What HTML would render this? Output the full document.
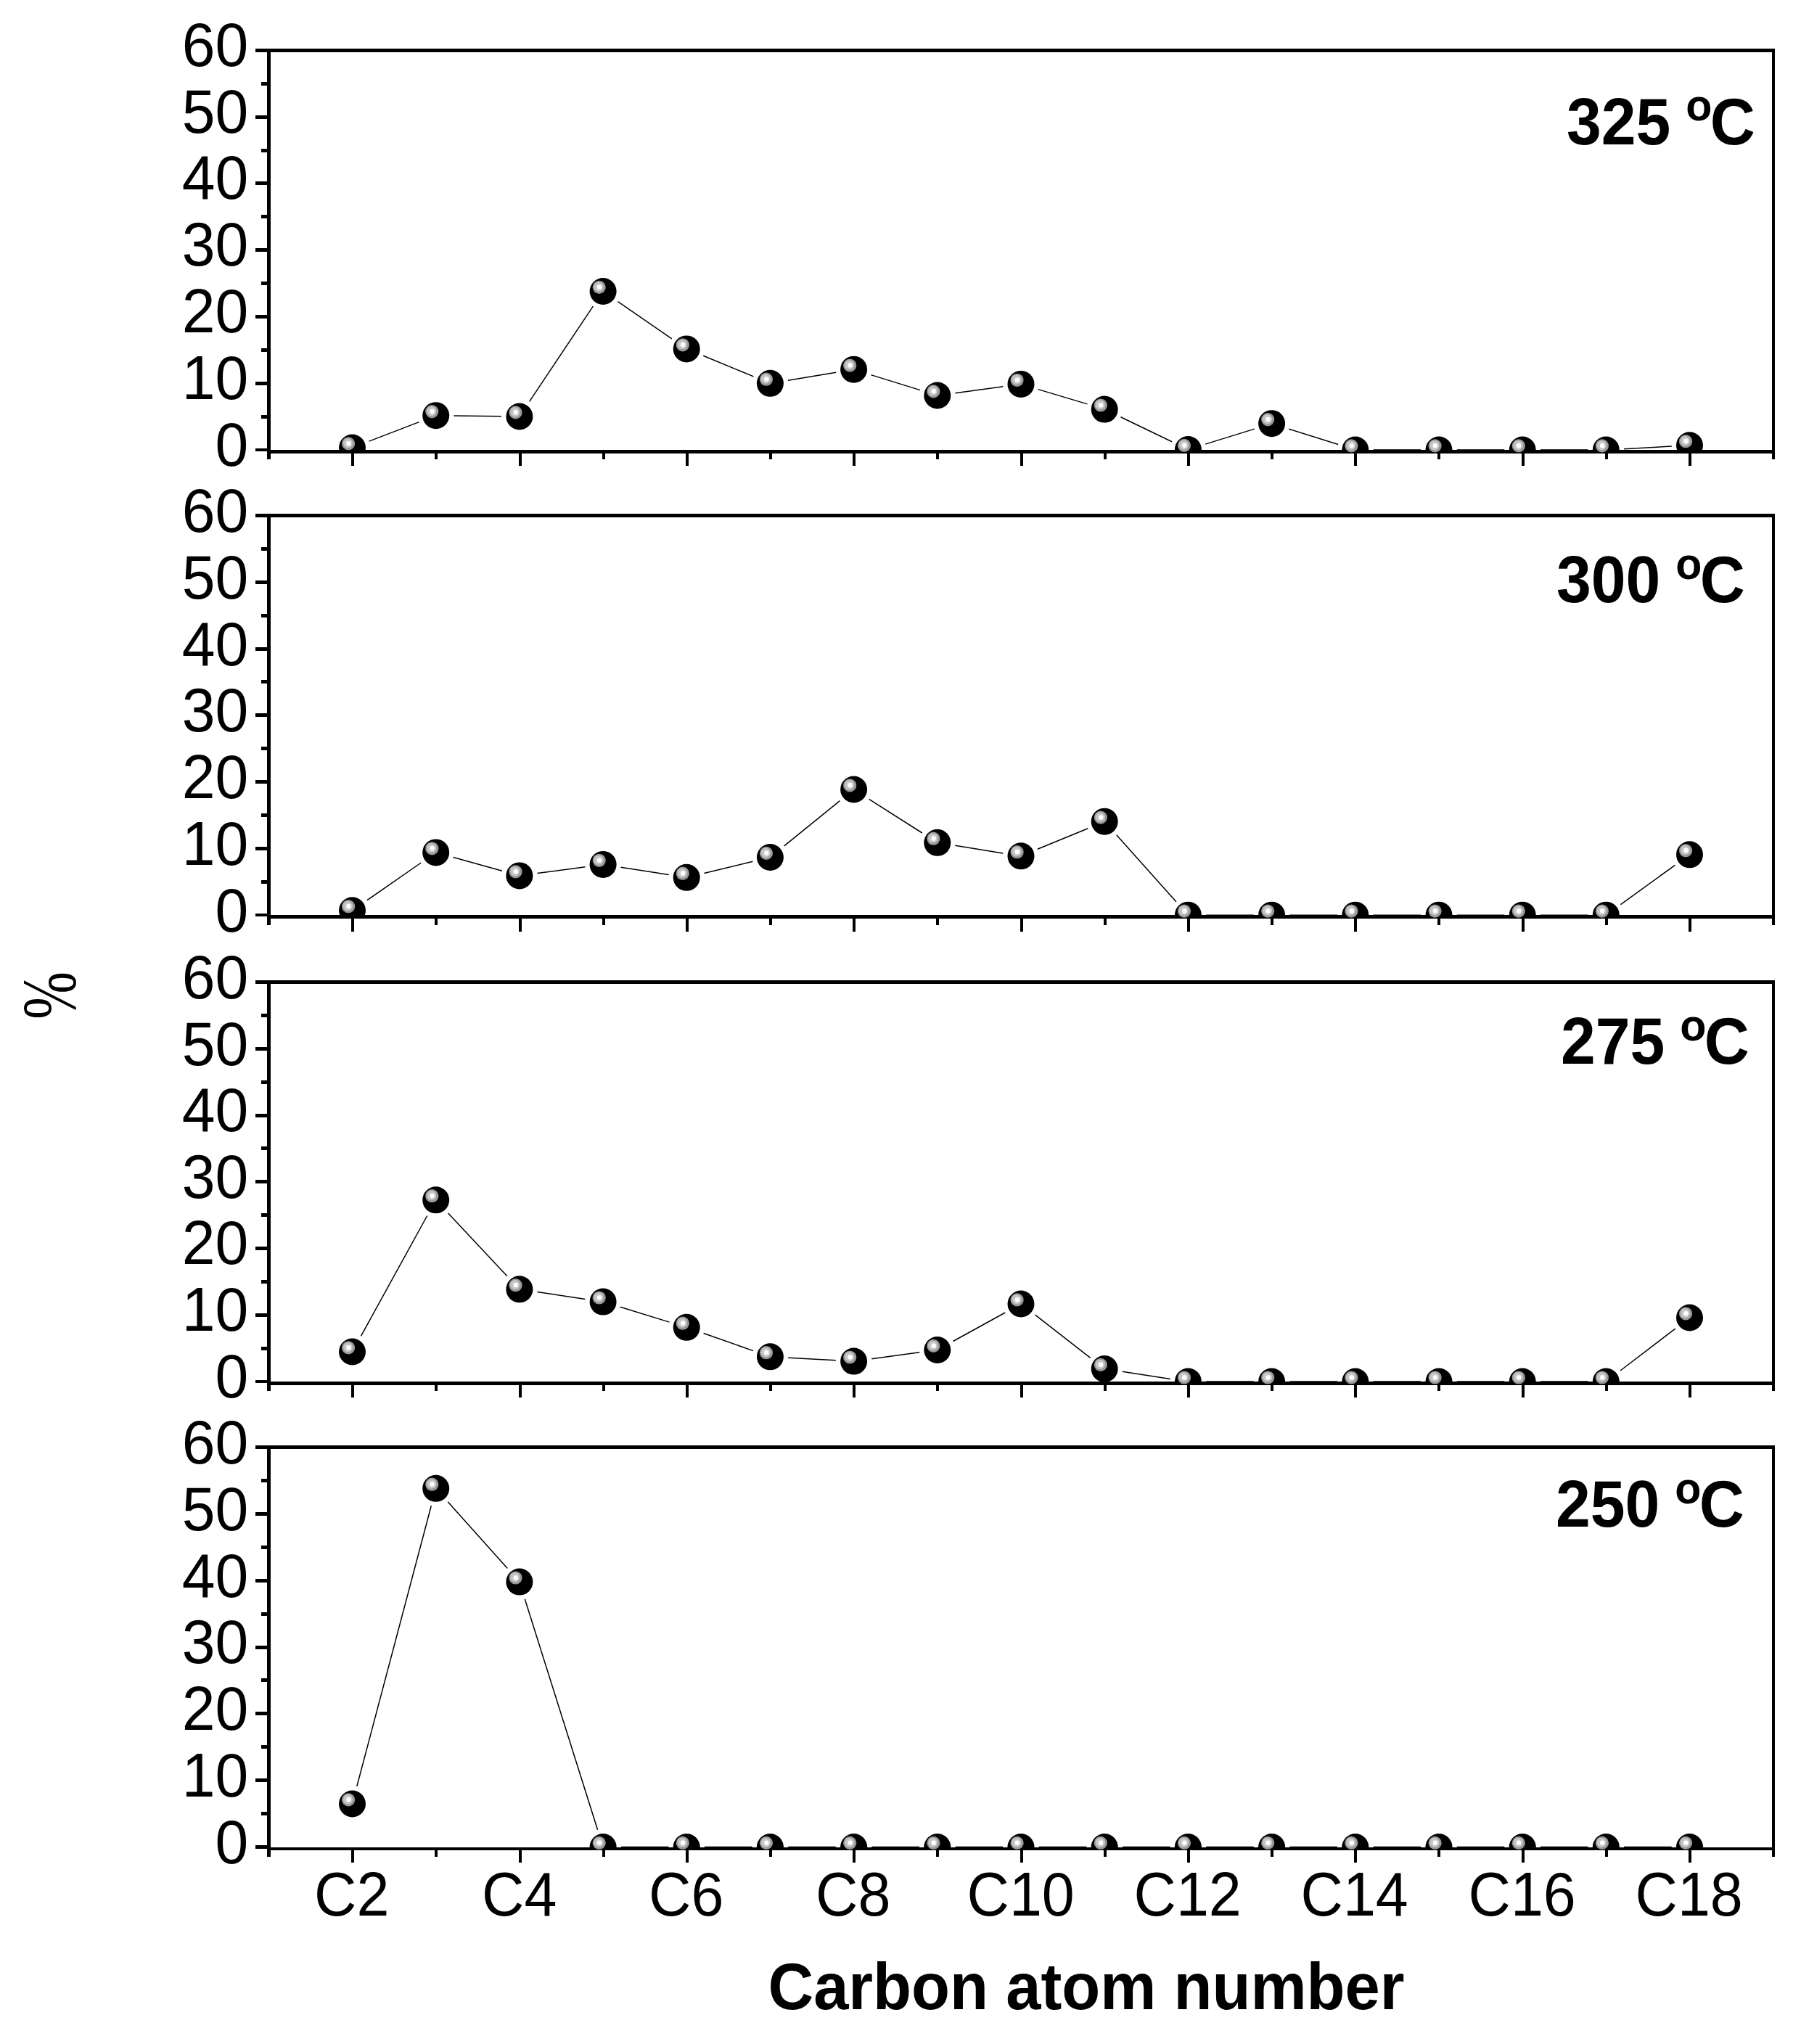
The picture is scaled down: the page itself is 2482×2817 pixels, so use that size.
<!DOCTYPE html>
<html lang="en"><head><meta charset="utf-8"><title>Carbon atom number distribution</title>
<style>html,body{margin:0;padding:0;background:#fff}svg{display:block}text{font-family:"Liberation Sans",Arial,Helvetica,sans-serif;fill:#000}.b{font-weight:bold}.ser{font-family:"Liberation Serif","Times New Roman",serif}</style></head><body>
<svg width="2482" height="2817" viewBox="0 0 2482 2817">
<rect width="2482" height="2817" fill="#fff"/>
<g shape-rendering="crispEdges" fill="#000">
<rect x="368" y="67" width="2078" height="5"/>
<rect x="368" y="620" width="2078" height="5"/>
<rect x="368" y="67" width="5" height="566"/>
<rect x="2442" y="67" width="4" height="566"/>
<rect x="352" y="618" width="17" height="4"/>
<rect x="360" y="572" width="9" height="5"/>
<rect x="352" y="526" width="17" height="5"/>
<rect x="360" y="480" width="9" height="5"/>
<rect x="352" y="434" width="17" height="5"/>
<rect x="360" y="388" width="9" height="5"/>
<rect x="352" y="342" width="17" height="5"/>
<rect x="360" y="296" width="9" height="5"/>
<rect x="352" y="250" width="17" height="5"/>
<rect x="360" y="205" width="9" height="5"/>
<rect x="352" y="159" width="17" height="5"/>
<rect x="360" y="113" width="9" height="5"/>
<rect x="352" y="67" width="17" height="5"/>
<rect x="484" y="620" width="4" height="22"/>
<rect x="599" y="620" width="4" height="13"/>
<rect x="715" y="620" width="4" height="22"/>
<rect x="830" y="620" width="4" height="13"/>
<rect x="945" y="620" width="4" height="22"/>
<rect x="1060" y="620" width="4" height="13"/>
<rect x="1175" y="620" width="4" height="22"/>
<rect x="1290" y="620" width="4" height="13"/>
<rect x="1406" y="620" width="4" height="22"/>
<rect x="1521" y="620" width="4" height="13"/>
<rect x="1636" y="620" width="4" height="22"/>
<rect x="1751" y="620" width="4" height="13"/>
<rect x="1866" y="620" width="4" height="22"/>
<rect x="1981" y="620" width="4" height="13"/>
<rect x="2097" y="620" width="4" height="22"/>
<rect x="2212" y="620" width="4" height="13"/>
<rect x="2327" y="620" width="4" height="22"/>
</g>
<text transform="translate(342.4,641.8) scale(0.98,1.02)" font-size="84" text-anchor="end">0</text>
<text transform="translate(342.4,549.9) scale(0.98,1.02)" font-size="84" text-anchor="end">10</text>
<text transform="translate(342.4,458.1) scale(0.98,1.02)" font-size="84" text-anchor="end">20</text>
<text transform="translate(342.4,366.2) scale(0.98,1.02)" font-size="84" text-anchor="end">30</text>
<text transform="translate(342.4,274.4) scale(0.98,1.02)" font-size="84" text-anchor="end">40</text>
<text transform="translate(342.4,182.5) scale(0.98,1.02)" font-size="84" text-anchor="end">50</text>
<text transform="translate(342.4,90.7) scale(0.98,1.02)" font-size="84" text-anchor="end">60</text>
<clipPath id="c0"><rect x="368" y="67" width="2078" height="558"/></clipPath>
<g clip-path="url(#c0)">
<path d="M508.6 608.1L577.5 581.6M625.5 573.0L691.1 573.7M729.6 553.4L817.3 422.1M851.5 415.6L925.8 466.8M969.2 490.3L1038.5 518.9M1085.9 524.2L1152.2 513.3M1200.3 516.6L1268.1 537.6M1316.4 541.7L1382.4 532.7M1430.8 536.6L1498.5 556.9M1544.5 574.8L1615.0 608.8M1661.1 612.1L1728.9 591.1M1776.2 591.2L1844.1 612.5M1892.6 620.0L1958.2 620.0M2007.8 620.0L2073.3 620.0M2123.0 620.0L2188.5 620.0M2238.1 618.7L2303.8 615.1" stroke="#000" stroke-width="1.5" fill="none"/>
<g transform="translate(485.5 617.0)"><circle r="18.5"/><circle cx="-5.4" cy="-5.6" r="9.1" fill="#999"/><circle cx="-6" cy="-6.15" r="6.6" fill="#c6c6c6"/><rect x="-8.2" y="-8.95" width="6.2" height="6.4" rx="2.1" fill="#fdfdfd"/></g>
<g transform="translate(600.7 572.7)"><circle r="18.5"/><circle cx="-5.4" cy="-5.6" r="9.1" fill="#999"/><circle cx="-6" cy="-6.15" r="6.6" fill="#c6c6c6"/><rect x="-8.2" y="-8.95" width="6.2" height="6.4" rx="2.1" fill="#fdfdfd"/></g>
<g transform="translate(715.9 574.0)"><circle r="18.5"/><circle cx="-5.4" cy="-5.6" r="9.1" fill="#999"/><circle cx="-6" cy="-6.15" r="6.6" fill="#c6c6c6"/><rect x="-8.2" y="-8.95" width="6.2" height="6.4" rx="2.1" fill="#fdfdfd"/></g>
<g transform="translate(831.1 401.5)"><circle r="18.5"/><circle cx="-5.4" cy="-5.6" r="9.1" fill="#999"/><circle cx="-6" cy="-6.15" r="6.6" fill="#c6c6c6"/><rect x="-8.2" y="-8.95" width="6.2" height="6.4" rx="2.1" fill="#fdfdfd"/></g>
<g transform="translate(946.2 480.9)"><circle r="18.5"/><circle cx="-5.4" cy="-5.6" r="9.1" fill="#999"/><circle cx="-6" cy="-6.15" r="6.6" fill="#c6c6c6"/><rect x="-8.2" y="-8.95" width="6.2" height="6.4" rx="2.1" fill="#fdfdfd"/></g>
<g transform="translate(1061.4 528.3)"><circle r="18.5"/><circle cx="-5.4" cy="-5.6" r="9.1" fill="#999"/><circle cx="-6" cy="-6.15" r="6.6" fill="#c6c6c6"/><rect x="-8.2" y="-8.95" width="6.2" height="6.4" rx="2.1" fill="#fdfdfd"/></g>
<g transform="translate(1176.6 509.2)"><circle r="18.5"/><circle cx="-5.4" cy="-5.6" r="9.1" fill="#999"/><circle cx="-6" cy="-6.15" r="6.6" fill="#c6c6c6"/><rect x="-8.2" y="-8.95" width="6.2" height="6.4" rx="2.1" fill="#fdfdfd"/></g>
<g transform="translate(1291.8 545.0)"><circle r="18.5"/><circle cx="-5.4" cy="-5.6" r="9.1" fill="#999"/><circle cx="-6" cy="-6.15" r="6.6" fill="#c6c6c6"/><rect x="-8.2" y="-8.95" width="6.2" height="6.4" rx="2.1" fill="#fdfdfd"/></g>
<g transform="translate(1407.0 529.4)"><circle r="18.5"/><circle cx="-5.4" cy="-5.6" r="9.1" fill="#999"/><circle cx="-6" cy="-6.15" r="6.6" fill="#c6c6c6"/><rect x="-8.2" y="-8.95" width="6.2" height="6.4" rx="2.1" fill="#fdfdfd"/></g>
<g transform="translate(1522.2 564.1)"><circle r="18.5"/><circle cx="-5.4" cy="-5.6" r="9.1" fill="#999"/><circle cx="-6" cy="-6.15" r="6.6" fill="#c6c6c6"/><rect x="-8.2" y="-8.95" width="6.2" height="6.4" rx="2.1" fill="#fdfdfd"/></g>
<g transform="translate(1637.4 619.5)"><circle r="18.5"/><circle cx="-5.4" cy="-5.6" r="9.1" fill="#999"/><circle cx="-6" cy="-6.15" r="6.6" fill="#c6c6c6"/><rect x="-8.2" y="-8.95" width="6.2" height="6.4" rx="2.1" fill="#fdfdfd"/></g>
<g transform="translate(1752.6 583.7)"><circle r="18.5"/><circle cx="-5.4" cy="-5.6" r="9.1" fill="#999"/><circle cx="-6" cy="-6.15" r="6.6" fill="#c6c6c6"/><rect x="-8.2" y="-8.95" width="6.2" height="6.4" rx="2.1" fill="#fdfdfd"/></g>
<g transform="translate(1867.8 620.0)"><circle r="18.5"/><circle cx="-5.4" cy="-5.6" r="9.1" fill="#999"/><circle cx="-6" cy="-6.15" r="6.6" fill="#c6c6c6"/><rect x="-8.2" y="-8.95" width="6.2" height="6.4" rx="2.1" fill="#fdfdfd"/></g>
<g transform="translate(1983.0 620.0)"><circle r="18.5"/><circle cx="-5.4" cy="-5.6" r="9.1" fill="#999"/><circle cx="-6" cy="-6.15" r="6.6" fill="#c6c6c6"/><rect x="-8.2" y="-8.95" width="6.2" height="6.4" rx="2.1" fill="#fdfdfd"/></g>
<g transform="translate(2098.2 620.0)"><circle r="18.5"/><circle cx="-5.4" cy="-5.6" r="9.1" fill="#999"/><circle cx="-6" cy="-6.15" r="6.6" fill="#c6c6c6"/><rect x="-8.2" y="-8.95" width="6.2" height="6.4" rx="2.1" fill="#fdfdfd"/></g>
<g transform="translate(2213.3 620.0)"><circle r="18.5"/><circle cx="-5.4" cy="-5.6" r="9.1" fill="#999"/><circle cx="-6" cy="-6.15" r="6.6" fill="#c6c6c6"/><rect x="-8.2" y="-8.95" width="6.2" height="6.4" rx="2.1" fill="#fdfdfd"/></g>
<g transform="translate(2328.5 613.8)"><circle r="18.5"/><circle cx="-5.4" cy="-5.6" r="9.1" fill="#999"/><circle cx="-6" cy="-6.15" r="6.6" fill="#c6c6c6"/><rect x="-8.2" y="-8.95" width="6.2" height="6.4" rx="2.1" fill="#fdfdfd"/></g>
</g>
<text class="b" transform="translate(2161,198.5) scale(0.955,1)" font-size="90"><tspan x="-2.2">325</tspan><tspan> </tspan><tspan x="170" y="-32.2" font-size="62">o</tspan><tspan x="205" y="0">C</tspan></text>
<g shape-rendering="crispEdges" fill="#000">
<rect x="368" y="708" width="2078" height="5"/>
<rect x="368" y="1261" width="2078" height="5"/>
<rect x="368" y="708" width="5" height="567"/>
<rect x="2442" y="708" width="4" height="567"/>
<rect x="352" y="1259" width="17" height="4"/>
<rect x="360" y="1213" width="9" height="5"/>
<rect x="352" y="1167" width="17" height="5"/>
<rect x="360" y="1121" width="9" height="5"/>
<rect x="352" y="1075" width="17" height="5"/>
<rect x="360" y="1029" width="9" height="5"/>
<rect x="352" y="983" width="17" height="5"/>
<rect x="360" y="937" width="9" height="5"/>
<rect x="352" y="892" width="17" height="5"/>
<rect x="360" y="846" width="9" height="5"/>
<rect x="352" y="800" width="17" height="5"/>
<rect x="360" y="754" width="9" height="5"/>
<rect x="352" y="708" width="17" height="5"/>
<rect x="484" y="1261" width="4" height="23"/>
<rect x="599" y="1261" width="4" height="14"/>
<rect x="715" y="1261" width="4" height="23"/>
<rect x="830" y="1261" width="4" height="14"/>
<rect x="945" y="1261" width="4" height="23"/>
<rect x="1060" y="1261" width="4" height="14"/>
<rect x="1175" y="1261" width="4" height="23"/>
<rect x="1290" y="1261" width="4" height="14"/>
<rect x="1406" y="1261" width="4" height="23"/>
<rect x="1521" y="1261" width="4" height="14"/>
<rect x="1636" y="1261" width="4" height="23"/>
<rect x="1751" y="1261" width="4" height="14"/>
<rect x="1866" y="1261" width="4" height="23"/>
<rect x="1981" y="1261" width="4" height="14"/>
<rect x="2097" y="1261" width="4" height="23"/>
<rect x="2212" y="1261" width="4" height="14"/>
<rect x="2327" y="1261" width="4" height="23"/>
</g>
<text transform="translate(342.4,1284.0) scale(0.98,1.02)" font-size="84" text-anchor="end">0</text>
<text transform="translate(342.4,1192.1) scale(0.98,1.02)" font-size="84" text-anchor="end">10</text>
<text transform="translate(342.4,1100.2) scale(0.98,1.02)" font-size="84" text-anchor="end">20</text>
<text transform="translate(342.4,1008.4) scale(0.98,1.02)" font-size="84" text-anchor="end">30</text>
<text transform="translate(342.4,916.5) scale(0.98,1.02)" font-size="84" text-anchor="end">40</text>
<text transform="translate(342.4,824.6) scale(0.98,1.02)" font-size="84" text-anchor="end">50</text>
<text transform="translate(342.4,732.7) scale(0.98,1.02)" font-size="84" text-anchor="end">60</text>
<clipPath id="c1"><rect x="368" y="708" width="2078" height="558"/></clipPath>
<g clip-path="url(#c1)">
<path d="M505.9 1240.7L580.3 1189.0M624.6 1181.5L692.0 1200.3M740.4 1203.6L806.5 1194.7M855.6 1195.2L921.7 1205.5M970.4 1203.5L1037.3 1187.3M1080.7 1165.9L1157.4 1103.6M1197.6 1101.3L1270.9 1148.0M1316.3 1165.2L1382.5 1175.9M1429.9 1170.3L1499.3 1141.7M1538.7 1150.7L1620.9 1242.7M1662.2 1261.2L1727.8 1261.2M1777.4 1261.2L1843.0 1261.2M1892.6 1261.2L1958.2 1261.2M2007.8 1261.2L2073.3 1261.2M2123.0 1261.2L2188.5 1261.2M2233.4 1246.7L2308.4 1192.3" stroke="#000" stroke-width="1.5" fill="none"/>
<g transform="translate(485.5 1254.8)"><circle r="18.5"/><circle cx="-5.4" cy="-5.6" r="9.1" fill="#999"/><circle cx="-6" cy="-6.15" r="6.6" fill="#c6c6c6"/><rect x="-8.2" y="-8.95" width="6.2" height="6.4" rx="2.1" fill="#fdfdfd"/></g>
<g transform="translate(600.7 1174.9)"><circle r="18.5"/><circle cx="-5.4" cy="-5.6" r="9.1" fill="#999"/><circle cx="-6" cy="-6.15" r="6.6" fill="#c6c6c6"/><rect x="-8.2" y="-8.95" width="6.2" height="6.4" rx="2.1" fill="#fdfdfd"/></g>
<g transform="translate(715.9 1206.9)"><circle r="18.5"/><circle cx="-5.4" cy="-5.6" r="9.1" fill="#999"/><circle cx="-6" cy="-6.15" r="6.6" fill="#c6c6c6"/><rect x="-8.2" y="-8.95" width="6.2" height="6.4" rx="2.1" fill="#fdfdfd"/></g>
<g transform="translate(831.1 1191.4)"><circle r="18.5"/><circle cx="-5.4" cy="-5.6" r="9.1" fill="#999"/><circle cx="-6" cy="-6.15" r="6.6" fill="#c6c6c6"/><rect x="-8.2" y="-8.95" width="6.2" height="6.4" rx="2.1" fill="#fdfdfd"/></g>
<g transform="translate(946.2 1209.3)"><circle r="18.5"/><circle cx="-5.4" cy="-5.6" r="9.1" fill="#999"/><circle cx="-6" cy="-6.15" r="6.6" fill="#c6c6c6"/><rect x="-8.2" y="-8.95" width="6.2" height="6.4" rx="2.1" fill="#fdfdfd"/></g>
<g transform="translate(1061.4 1181.5)"><circle r="18.5"/><circle cx="-5.4" cy="-5.6" r="9.1" fill="#999"/><circle cx="-6" cy="-6.15" r="6.6" fill="#c6c6c6"/><rect x="-8.2" y="-8.95" width="6.2" height="6.4" rx="2.1" fill="#fdfdfd"/></g>
<g transform="translate(1176.6 1088.0)"><circle r="18.5"/><circle cx="-5.4" cy="-5.6" r="9.1" fill="#999"/><circle cx="-6" cy="-6.15" r="6.6" fill="#c6c6c6"/><rect x="-8.2" y="-8.95" width="6.2" height="6.4" rx="2.1" fill="#fdfdfd"/></g>
<g transform="translate(1291.8 1161.3)"><circle r="18.5"/><circle cx="-5.4" cy="-5.6" r="9.1" fill="#999"/><circle cx="-6" cy="-6.15" r="6.6" fill="#c6c6c6"/><rect x="-8.2" y="-8.95" width="6.2" height="6.4" rx="2.1" fill="#fdfdfd"/></g>
<g transform="translate(1407.0 1179.8)"><circle r="18.5"/><circle cx="-5.4" cy="-5.6" r="9.1" fill="#999"/><circle cx="-6" cy="-6.15" r="6.6" fill="#c6c6c6"/><rect x="-8.2" y="-8.95" width="6.2" height="6.4" rx="2.1" fill="#fdfdfd"/></g>
<g transform="translate(1522.2 1132.2)"><circle r="18.5"/><circle cx="-5.4" cy="-5.6" r="9.1" fill="#999"/><circle cx="-6" cy="-6.15" r="6.6" fill="#c6c6c6"/><rect x="-8.2" y="-8.95" width="6.2" height="6.4" rx="2.1" fill="#fdfdfd"/></g>
<g transform="translate(1637.4 1261.2)"><circle r="18.5"/><circle cx="-5.4" cy="-5.6" r="9.1" fill="#999"/><circle cx="-6" cy="-6.15" r="6.6" fill="#c6c6c6"/><rect x="-8.2" y="-8.95" width="6.2" height="6.4" rx="2.1" fill="#fdfdfd"/></g>
<g transform="translate(1752.6 1261.2)"><circle r="18.5"/><circle cx="-5.4" cy="-5.6" r="9.1" fill="#999"/><circle cx="-6" cy="-6.15" r="6.6" fill="#c6c6c6"/><rect x="-8.2" y="-8.95" width="6.2" height="6.4" rx="2.1" fill="#fdfdfd"/></g>
<g transform="translate(1867.8 1261.2)"><circle r="18.5"/><circle cx="-5.4" cy="-5.6" r="9.1" fill="#999"/><circle cx="-6" cy="-6.15" r="6.6" fill="#c6c6c6"/><rect x="-8.2" y="-8.95" width="6.2" height="6.4" rx="2.1" fill="#fdfdfd"/></g>
<g transform="translate(1983.0 1261.2)"><circle r="18.5"/><circle cx="-5.4" cy="-5.6" r="9.1" fill="#999"/><circle cx="-6" cy="-6.15" r="6.6" fill="#c6c6c6"/><rect x="-8.2" y="-8.95" width="6.2" height="6.4" rx="2.1" fill="#fdfdfd"/></g>
<g transform="translate(2098.2 1261.2)"><circle r="18.5"/><circle cx="-5.4" cy="-5.6" r="9.1" fill="#999"/><circle cx="-6" cy="-6.15" r="6.6" fill="#c6c6c6"/><rect x="-8.2" y="-8.95" width="6.2" height="6.4" rx="2.1" fill="#fdfdfd"/></g>
<g transform="translate(2213.3 1261.2)"><circle r="18.5"/><circle cx="-5.4" cy="-5.6" r="9.1" fill="#999"/><circle cx="-6" cy="-6.15" r="6.6" fill="#c6c6c6"/><rect x="-8.2" y="-8.95" width="6.2" height="6.4" rx="2.1" fill="#fdfdfd"/></g>
<g transform="translate(2328.5 1177.8)"><circle r="18.5"/><circle cx="-5.4" cy="-5.6" r="9.1" fill="#999"/><circle cx="-6" cy="-6.15" r="6.6" fill="#c6c6c6"/><rect x="-8.2" y="-8.95" width="6.2" height="6.4" rx="2.1" fill="#fdfdfd"/></g>
</g>
<text class="b" transform="translate(2147,830.0) scale(0.955,1)" font-size="90"><tspan x="-2.2">300</tspan><tspan> </tspan><tspan x="170" y="-32.2" font-size="62">o</tspan><tspan x="205" y="0">C</tspan></text>
<g shape-rendering="crispEdges" fill="#000">
<rect x="368" y="1351" width="2078" height="5"/>
<rect x="368" y="1904" width="2078" height="5"/>
<rect x="368" y="1351" width="5" height="566"/>
<rect x="2442" y="1351" width="4" height="566"/>
<rect x="352" y="1902" width="17" height="4"/>
<rect x="360" y="1856" width="9" height="5"/>
<rect x="352" y="1810" width="17" height="5"/>
<rect x="360" y="1764" width="9" height="5"/>
<rect x="352" y="1718" width="17" height="5"/>
<rect x="360" y="1672" width="9" height="5"/>
<rect x="352" y="1626" width="17" height="5"/>
<rect x="360" y="1580" width="9" height="5"/>
<rect x="352" y="1535" width="17" height="5"/>
<rect x="360" y="1489" width="9" height="5"/>
<rect x="352" y="1443" width="17" height="5"/>
<rect x="360" y="1397" width="9" height="5"/>
<rect x="352" y="1351" width="17" height="5"/>
<rect x="484" y="1904" width="4" height="22"/>
<rect x="599" y="1904" width="4" height="13"/>
<rect x="715" y="1904" width="4" height="22"/>
<rect x="830" y="1904" width="4" height="13"/>
<rect x="945" y="1904" width="4" height="22"/>
<rect x="1060" y="1904" width="4" height="13"/>
<rect x="1175" y="1904" width="4" height="22"/>
<rect x="1290" y="1904" width="4" height="13"/>
<rect x="1406" y="1904" width="4" height="22"/>
<rect x="1521" y="1904" width="4" height="13"/>
<rect x="1636" y="1904" width="4" height="22"/>
<rect x="1751" y="1904" width="4" height="13"/>
<rect x="1866" y="1904" width="4" height="22"/>
<rect x="1981" y="1904" width="4" height="13"/>
<rect x="2097" y="1904" width="4" height="22"/>
<rect x="2212" y="1904" width="4" height="13"/>
<rect x="2327" y="1904" width="4" height="22"/>
</g>
<text transform="translate(342.4,1925.5) scale(0.98,1.02)" font-size="84" text-anchor="end">0</text>
<text transform="translate(342.4,1833.9) scale(0.98,1.02)" font-size="84" text-anchor="end">10</text>
<text transform="translate(342.4,1742.3) scale(0.98,1.02)" font-size="84" text-anchor="end">20</text>
<text transform="translate(342.4,1650.7) scale(0.98,1.02)" font-size="84" text-anchor="end">30</text>
<text transform="translate(342.4,1559.1) scale(0.98,1.02)" font-size="84" text-anchor="end">40</text>
<text transform="translate(342.4,1467.5) scale(0.98,1.02)" font-size="84" text-anchor="end">50</text>
<text transform="translate(342.4,1375.9) scale(0.98,1.02)" font-size="84" text-anchor="end">60</text>
<clipPath id="c2"><rect x="368" y="1351" width="2078" height="558"/></clipPath>
<g clip-path="url(#c2)">
<path d="M497.5 1841.3L588.7 1675.5M617.6 1671.9L698.9 1758.7M740.4 1780.5L806.5 1790.4M854.8 1801.3L922.5 1822.1M969.6 1837.5L1038.0 1861.6M1086.2 1871.2L1151.9 1874.7M1201.2 1872.8L1267.2 1863.8M1313.5 1848.5L1385.3 1809.0M1426.6 1812.2L1502.6 1871.3M1546.7 1890.2L1612.9 1900.4M1662.2 1904.1L1727.8 1904.1M1777.4 1904.1L1843.0 1904.1M1892.6 1904.1L1958.2 1904.1M2007.8 1904.1L2073.3 1904.1M2123.0 1904.1L2188.5 1904.1M2233.0 1889.0L2308.8 1831.1" stroke="#000" stroke-width="1.5" fill="none"/>
<g transform="translate(485.5 1863.0)"><circle r="18.5"/><circle cx="-5.4" cy="-5.6" r="9.1" fill="#999"/><circle cx="-6" cy="-6.15" r="6.6" fill="#c6c6c6"/><rect x="-8.2" y="-8.95" width="6.2" height="6.4" rx="2.1" fill="#fdfdfd"/></g>
<g transform="translate(600.7 1653.8)"><circle r="18.5"/><circle cx="-5.4" cy="-5.6" r="9.1" fill="#999"/><circle cx="-6" cy="-6.15" r="6.6" fill="#c6c6c6"/><rect x="-8.2" y="-8.95" width="6.2" height="6.4" rx="2.1" fill="#fdfdfd"/></g>
<g transform="translate(715.9 1776.8)"><circle r="18.5"/><circle cx="-5.4" cy="-5.6" r="9.1" fill="#999"/><circle cx="-6" cy="-6.15" r="6.6" fill="#c6c6c6"/><rect x="-8.2" y="-8.95" width="6.2" height="6.4" rx="2.1" fill="#fdfdfd"/></g>
<g transform="translate(831.1 1794.1)"><circle r="18.5"/><circle cx="-5.4" cy="-5.6" r="9.1" fill="#999"/><circle cx="-6" cy="-6.15" r="6.6" fill="#c6c6c6"/><rect x="-8.2" y="-8.95" width="6.2" height="6.4" rx="2.1" fill="#fdfdfd"/></g>
<g transform="translate(946.2 1829.3)"><circle r="18.5"/><circle cx="-5.4" cy="-5.6" r="9.1" fill="#999"/><circle cx="-6" cy="-6.15" r="6.6" fill="#c6c6c6"/><rect x="-8.2" y="-8.95" width="6.2" height="6.4" rx="2.1" fill="#fdfdfd"/></g>
<g transform="translate(1061.4 1869.8)"><circle r="18.5"/><circle cx="-5.4" cy="-5.6" r="9.1" fill="#999"/><circle cx="-6" cy="-6.15" r="6.6" fill="#c6c6c6"/><rect x="-8.2" y="-8.95" width="6.2" height="6.4" rx="2.1" fill="#fdfdfd"/></g>
<g transform="translate(1176.6 1876.1)"><circle r="18.5"/><circle cx="-5.4" cy="-5.6" r="9.1" fill="#999"/><circle cx="-6" cy="-6.15" r="6.6" fill="#c6c6c6"/><rect x="-8.2" y="-8.95" width="6.2" height="6.4" rx="2.1" fill="#fdfdfd"/></g>
<g transform="translate(1291.8 1860.5)"><circle r="18.5"/><circle cx="-5.4" cy="-5.6" r="9.1" fill="#999"/><circle cx="-6" cy="-6.15" r="6.6" fill="#c6c6c6"/><rect x="-8.2" y="-8.95" width="6.2" height="6.4" rx="2.1" fill="#fdfdfd"/></g>
<g transform="translate(1407.0 1797.0)"><circle r="18.5"/><circle cx="-5.4" cy="-5.6" r="9.1" fill="#999"/><circle cx="-6" cy="-6.15" r="6.6" fill="#c6c6c6"/><rect x="-8.2" y="-8.95" width="6.2" height="6.4" rx="2.1" fill="#fdfdfd"/></g>
<g transform="translate(1522.2 1886.5)"><circle r="18.5"/><circle cx="-5.4" cy="-5.6" r="9.1" fill="#999"/><circle cx="-6" cy="-6.15" r="6.6" fill="#c6c6c6"/><rect x="-8.2" y="-8.95" width="6.2" height="6.4" rx="2.1" fill="#fdfdfd"/></g>
<g transform="translate(1637.4 1904.1)"><circle r="18.5"/><circle cx="-5.4" cy="-5.6" r="9.1" fill="#999"/><circle cx="-6" cy="-6.15" r="6.6" fill="#c6c6c6"/><rect x="-8.2" y="-8.95" width="6.2" height="6.4" rx="2.1" fill="#fdfdfd"/></g>
<g transform="translate(1752.6 1904.1)"><circle r="18.5"/><circle cx="-5.4" cy="-5.6" r="9.1" fill="#999"/><circle cx="-6" cy="-6.15" r="6.6" fill="#c6c6c6"/><rect x="-8.2" y="-8.95" width="6.2" height="6.4" rx="2.1" fill="#fdfdfd"/></g>
<g transform="translate(1867.8 1904.1)"><circle r="18.5"/><circle cx="-5.4" cy="-5.6" r="9.1" fill="#999"/><circle cx="-6" cy="-6.15" r="6.6" fill="#c6c6c6"/><rect x="-8.2" y="-8.95" width="6.2" height="6.4" rx="2.1" fill="#fdfdfd"/></g>
<g transform="translate(1983.0 1904.1)"><circle r="18.5"/><circle cx="-5.4" cy="-5.6" r="9.1" fill="#999"/><circle cx="-6" cy="-6.15" r="6.6" fill="#c6c6c6"/><rect x="-8.2" y="-8.95" width="6.2" height="6.4" rx="2.1" fill="#fdfdfd"/></g>
<g transform="translate(2098.2 1904.1)"><circle r="18.5"/><circle cx="-5.4" cy="-5.6" r="9.1" fill="#999"/><circle cx="-6" cy="-6.15" r="6.6" fill="#c6c6c6"/><rect x="-8.2" y="-8.95" width="6.2" height="6.4" rx="2.1" fill="#fdfdfd"/></g>
<g transform="translate(2213.3 1904.1)"><circle r="18.5"/><circle cx="-5.4" cy="-5.6" r="9.1" fill="#999"/><circle cx="-6" cy="-6.15" r="6.6" fill="#c6c6c6"/><rect x="-8.2" y="-8.95" width="6.2" height="6.4" rx="2.1" fill="#fdfdfd"/></g>
<g transform="translate(2328.5 1816.0)"><circle r="18.5"/><circle cx="-5.4" cy="-5.6" r="9.1" fill="#999"/><circle cx="-6" cy="-6.15" r="6.6" fill="#c6c6c6"/><rect x="-8.2" y="-8.95" width="6.2" height="6.4" rx="2.1" fill="#fdfdfd"/></g>
</g>
<text class="b" transform="translate(2153,1466.0) scale(0.955,1)" font-size="90"><tspan x="-2.2">275</tspan><tspan> </tspan><tspan x="170" y="-32.2" font-size="62">o</tspan><tspan x="205" y="0">C</tspan></text>
<g shape-rendering="crispEdges" fill="#000">
<rect x="368" y="1992" width="2078" height="5"/>
<rect x="368" y="2546" width="2078" height="4"/>
<rect x="368" y="1992" width="5" height="567"/>
<rect x="2442" y="1992" width="4" height="567"/>
<rect x="352" y="2543" width="17" height="5"/>
<rect x="360" y="2497" width="9" height="5"/>
<rect x="352" y="2451" width="17" height="5"/>
<rect x="360" y="2405" width="9" height="5"/>
<rect x="352" y="2359" width="17" height="5"/>
<rect x="360" y="2313" width="9" height="5"/>
<rect x="352" y="2268" width="17" height="5"/>
<rect x="360" y="2222" width="9" height="5"/>
<rect x="352" y="2176" width="17" height="5"/>
<rect x="360" y="2130" width="9" height="5"/>
<rect x="352" y="2084" width="17" height="5"/>
<rect x="360" y="2038" width="9" height="5"/>
<rect x="352" y="1992" width="17" height="5"/>
<rect x="484" y="2546" width="4" height="21"/>
<rect x="599" y="2546" width="4" height="13"/>
<rect x="715" y="2546" width="4" height="21"/>
<rect x="830" y="2546" width="4" height="13"/>
<rect x="945" y="2546" width="4" height="21"/>
<rect x="1060" y="2546" width="4" height="13"/>
<rect x="1175" y="2546" width="4" height="21"/>
<rect x="1290" y="2546" width="4" height="13"/>
<rect x="1406" y="2546" width="4" height="21"/>
<rect x="1521" y="2546" width="4" height="13"/>
<rect x="1636" y="2546" width="4" height="21"/>
<rect x="1751" y="2546" width="4" height="13"/>
<rect x="1866" y="2546" width="4" height="21"/>
<rect x="1981" y="2546" width="4" height="13"/>
<rect x="2097" y="2546" width="4" height="21"/>
<rect x="2212" y="2546" width="4" height="13"/>
<rect x="2327" y="2546" width="4" height="21"/>
</g>
<text transform="translate(342.4,2567.8) scale(0.98,1.02)" font-size="84" text-anchor="end">0</text>
<text transform="translate(342.4,2476.0) scale(0.98,1.02)" font-size="84" text-anchor="end">10</text>
<text transform="translate(342.4,2384.2) scale(0.98,1.02)" font-size="84" text-anchor="end">20</text>
<text transform="translate(342.4,2292.4) scale(0.98,1.02)" font-size="84" text-anchor="end">30</text>
<text transform="translate(342.4,2200.7) scale(0.98,1.02)" font-size="84" text-anchor="end">40</text>
<text transform="translate(342.4,2108.9) scale(0.98,1.02)" font-size="84" text-anchor="end">50</text>
<text transform="translate(342.4,2017.1) scale(0.98,1.02)" font-size="84" text-anchor="end">60</text>
<clipPath id="c3"><rect x="368" y="1992" width="2078" height="558"/></clipPath>
<g clip-path="url(#c3)">
<path d="M491.8 2462.0L594.3 2075.3M617.2 2069.8L699.3 2161.6M723.3 2203.8L823.6 2521.8M855.9 2545.5L921.5 2545.5M971.0 2545.5L1036.6 2545.5M1086.2 2545.5L1151.8 2545.5M1201.4 2545.5L1267.0 2545.5M1316.6 2545.5L1382.2 2545.5M1431.8 2545.5L1497.4 2545.5M1547.0 2545.5L1612.6 2545.5M1662.2 2545.5L1727.8 2545.5M1777.4 2545.5L1843.0 2545.5M1892.6 2545.5L1958.2 2545.5M2007.8 2545.5L2073.3 2545.5M2123.0 2545.5L2188.5 2545.5M2238.1 2545.5L2303.7 2545.5" stroke="#000" stroke-width="1.5" fill="none"/>
<g transform="translate(485.5 2486.0)"><circle r="18.5"/><circle cx="-5.4" cy="-5.6" r="9.1" fill="#999"/><circle cx="-6" cy="-6.15" r="6.6" fill="#c6c6c6"/><rect x="-8.2" y="-8.95" width="6.2" height="6.4" rx="2.1" fill="#fdfdfd"/></g>
<g transform="translate(600.7 2051.3)"><circle r="18.5"/><circle cx="-5.4" cy="-5.6" r="9.1" fill="#999"/><circle cx="-6" cy="-6.15" r="6.6" fill="#c6c6c6"/><rect x="-8.2" y="-8.95" width="6.2" height="6.4" rx="2.1" fill="#fdfdfd"/></g>
<g transform="translate(715.9 2180.1)"><circle r="18.5"/><circle cx="-5.4" cy="-5.6" r="9.1" fill="#999"/><circle cx="-6" cy="-6.15" r="6.6" fill="#c6c6c6"/><rect x="-8.2" y="-8.95" width="6.2" height="6.4" rx="2.1" fill="#fdfdfd"/></g>
<g transform="translate(831.1 2545.5)"><circle r="18.5"/><circle cx="-5.4" cy="-5.6" r="9.1" fill="#999"/><circle cx="-6" cy="-6.15" r="6.6" fill="#c6c6c6"/><rect x="-8.2" y="-8.95" width="6.2" height="6.4" rx="2.1" fill="#fdfdfd"/></g>
<g transform="translate(946.2 2545.5)"><circle r="18.5"/><circle cx="-5.4" cy="-5.6" r="9.1" fill="#999"/><circle cx="-6" cy="-6.15" r="6.6" fill="#c6c6c6"/><rect x="-8.2" y="-8.95" width="6.2" height="6.4" rx="2.1" fill="#fdfdfd"/></g>
<g transform="translate(1061.4 2545.5)"><circle r="18.5"/><circle cx="-5.4" cy="-5.6" r="9.1" fill="#999"/><circle cx="-6" cy="-6.15" r="6.6" fill="#c6c6c6"/><rect x="-8.2" y="-8.95" width="6.2" height="6.4" rx="2.1" fill="#fdfdfd"/></g>
<g transform="translate(1176.6 2545.5)"><circle r="18.5"/><circle cx="-5.4" cy="-5.6" r="9.1" fill="#999"/><circle cx="-6" cy="-6.15" r="6.6" fill="#c6c6c6"/><rect x="-8.2" y="-8.95" width="6.2" height="6.4" rx="2.1" fill="#fdfdfd"/></g>
<g transform="translate(1291.8 2545.5)"><circle r="18.5"/><circle cx="-5.4" cy="-5.6" r="9.1" fill="#999"/><circle cx="-6" cy="-6.15" r="6.6" fill="#c6c6c6"/><rect x="-8.2" y="-8.95" width="6.2" height="6.4" rx="2.1" fill="#fdfdfd"/></g>
<g transform="translate(1407.0 2545.5)"><circle r="18.5"/><circle cx="-5.4" cy="-5.6" r="9.1" fill="#999"/><circle cx="-6" cy="-6.15" r="6.6" fill="#c6c6c6"/><rect x="-8.2" y="-8.95" width="6.2" height="6.4" rx="2.1" fill="#fdfdfd"/></g>
<g transform="translate(1522.2 2545.5)"><circle r="18.5"/><circle cx="-5.4" cy="-5.6" r="9.1" fill="#999"/><circle cx="-6" cy="-6.15" r="6.6" fill="#c6c6c6"/><rect x="-8.2" y="-8.95" width="6.2" height="6.4" rx="2.1" fill="#fdfdfd"/></g>
<g transform="translate(1637.4 2545.5)"><circle r="18.5"/><circle cx="-5.4" cy="-5.6" r="9.1" fill="#999"/><circle cx="-6" cy="-6.15" r="6.6" fill="#c6c6c6"/><rect x="-8.2" y="-8.95" width="6.2" height="6.4" rx="2.1" fill="#fdfdfd"/></g>
<g transform="translate(1752.6 2545.5)"><circle r="18.5"/><circle cx="-5.4" cy="-5.6" r="9.1" fill="#999"/><circle cx="-6" cy="-6.15" r="6.6" fill="#c6c6c6"/><rect x="-8.2" y="-8.95" width="6.2" height="6.4" rx="2.1" fill="#fdfdfd"/></g>
<g transform="translate(1867.8 2545.5)"><circle r="18.5"/><circle cx="-5.4" cy="-5.6" r="9.1" fill="#999"/><circle cx="-6" cy="-6.15" r="6.6" fill="#c6c6c6"/><rect x="-8.2" y="-8.95" width="6.2" height="6.4" rx="2.1" fill="#fdfdfd"/></g>
<g transform="translate(1983.0 2545.5)"><circle r="18.5"/><circle cx="-5.4" cy="-5.6" r="9.1" fill="#999"/><circle cx="-6" cy="-6.15" r="6.6" fill="#c6c6c6"/><rect x="-8.2" y="-8.95" width="6.2" height="6.4" rx="2.1" fill="#fdfdfd"/></g>
<g transform="translate(2098.2 2545.5)"><circle r="18.5"/><circle cx="-5.4" cy="-5.6" r="9.1" fill="#999"/><circle cx="-6" cy="-6.15" r="6.6" fill="#c6c6c6"/><rect x="-8.2" y="-8.95" width="6.2" height="6.4" rx="2.1" fill="#fdfdfd"/></g>
<g transform="translate(2213.3 2545.5)"><circle r="18.5"/><circle cx="-5.4" cy="-5.6" r="9.1" fill="#999"/><circle cx="-6" cy="-6.15" r="6.6" fill="#c6c6c6"/><rect x="-8.2" y="-8.95" width="6.2" height="6.4" rx="2.1" fill="#fdfdfd"/></g>
<g transform="translate(2328.5 2545.5)"><circle r="18.5"/><circle cx="-5.4" cy="-5.6" r="9.1" fill="#999"/><circle cx="-6" cy="-6.15" r="6.6" fill="#c6c6c6"/><rect x="-8.2" y="-8.95" width="6.2" height="6.4" rx="2.1" fill="#fdfdfd"/></g>
</g>
<text class="b" transform="translate(2146,2104.0) scale(0.955,1)" font-size="90"><tspan x="-2.2">250</tspan><tspan> </tspan><tspan x="170" y="-32.2" font-size="62">o</tspan><tspan x="205" y="0">C</tspan></text>
<text transform="translate(484.7,2640.4) scale(0.962,1.02)" font-size="84" text-anchor="middle">C2</text>
<text transform="translate(715.7,2640.4) scale(0.962,1.02)" font-size="84" text-anchor="middle">C4</text>
<text transform="translate(945.7,2640.4) scale(0.962,1.02)" font-size="84" text-anchor="middle">C6</text>
<text transform="translate(1175.7,2640.4) scale(0.962,1.02)" font-size="84" text-anchor="middle">C8</text>
<text transform="translate(1406.7,2640.4) scale(0.962,1.02)" font-size="84" text-anchor="middle">C10</text>
<text transform="translate(1636.7,2640.4) scale(0.962,1.02)" font-size="84" text-anchor="middle">C12</text>
<text transform="translate(1866.7,2640.4) scale(0.962,1.02)" font-size="84" text-anchor="middle">C14</text>
<text transform="translate(2097.7,2640.4) scale(0.962,1.02)" font-size="84" text-anchor="middle">C16</text>
<text transform="translate(2327.7,2640.4) scale(0.962,1.02)" font-size="84" text-anchor="middle">C18</text>
<text class="b" x="1058.5" y="2769.2" font-size="90" textLength="877" lengthAdjust="spacingAndGlyphs">Carbon atom number</text>
<text class="ser" transform="translate(103.6,1404.7) rotate(-90) scale(0.897,1.207)" font-size="88">%</text>
</svg></body></html>
